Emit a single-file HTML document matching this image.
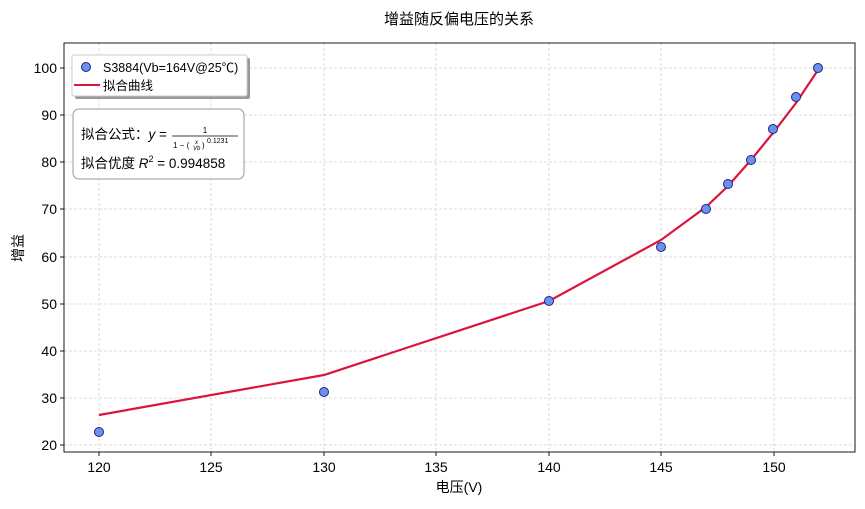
<!DOCTYPE html>
<html><head><meta charset="utf-8"><style>
body{margin:0;background:#fff;}
svg text{font-family:"Liberation Sans","Noto Sans CJK SC",sans-serif;fill:#000;}
</style></head><body>
<svg width="865" height="504" xmlns="http://www.w3.org/2000/svg">
<text x="459" y="24" font-size="15" text-anchor="middle">增益随反偏电压的关系</text>
<g stroke="#d3d3d3" stroke-dasharray="3,2" stroke-width="0.8">
<line x1="99" y1="43" x2="99" y2="452"/><line x1="211" y1="43" x2="211" y2="452"/><line x1="324" y1="43" x2="324" y2="452"/><line x1="436" y1="43" x2="436" y2="452"/><line x1="549" y1="43" x2="549" y2="452"/><line x1="661" y1="43" x2="661" y2="452"/><line x1="774" y1="43" x2="774" y2="452"/>
<line x1="64" y1="68" x2="855" y2="68"/><line x1="64" y1="115" x2="855" y2="115"/><line x1="64" y1="162" x2="855" y2="162"/><line x1="64" y1="209" x2="855" y2="209"/><line x1="64" y1="257" x2="855" y2="257"/><line x1="64" y1="304" x2="855" y2="304"/><line x1="64" y1="351" x2="855" y2="351"/><line x1="64" y1="398" x2="855" y2="398"/><line x1="64" y1="445" x2="855" y2="445"/>
</g>
<rect x="64" y="43" width="791" height="409" fill="none" stroke="#000" stroke-width="0.9"/>
<g stroke="#000" stroke-width="0.9">
<line x1="99" y1="452" x2="99" y2="456"/><line x1="211" y1="452" x2="211" y2="456"/><line x1="324" y1="452" x2="324" y2="456"/><line x1="436" y1="452" x2="436" y2="456"/><line x1="549" y1="452" x2="549" y2="456"/><line x1="661" y1="452" x2="661" y2="456"/><line x1="774" y1="452" x2="774" y2="456"/>
<line x1="60" y1="68" x2="64" y2="68"/><line x1="60" y1="115" x2="64" y2="115"/><line x1="60" y1="162" x2="64" y2="162"/><line x1="60" y1="209" x2="64" y2="209"/><line x1="60" y1="257" x2="64" y2="257"/><line x1="60" y1="304" x2="64" y2="304"/><line x1="60" y1="351" x2="64" y2="351"/><line x1="60" y1="398" x2="64" y2="398"/><line x1="60" y1="445" x2="64" y2="445"/>
</g>
<g font-size="14" text-anchor="middle">
<text x="99" y="472">120</text><text x="211" y="472">125</text><text x="324" y="472">130</text><text x="436" y="472">135</text><text x="549" y="472">140</text><text x="661" y="472">145</text><text x="774" y="472">150</text>
</g>
<g font-size="14" text-anchor="end">
<text x="57" y="73">100</text><text x="57" y="120">90</text><text x="57" y="167">80</text><text x="57" y="214">70</text><text x="57" y="262">60</text><text x="57" y="309">50</text><text x="57" y="356">40</text><text x="57" y="403">30</text><text x="57" y="450">20</text>
</g>
<text x="459" y="492" font-size="14" text-anchor="middle">电压(V)</text>
<text x="23" y="248" font-size="14" text-anchor="middle" transform="rotate(-90 23 248)">增益</text>
<polyline fill="none" stroke="#dc143c" stroke-width="2.2" points="99,415 324,375 549,301 661,240 706,207 728,186 751,160 773,133 796,103 818,70"/>
<g fill="#6f8ff0" stroke="#1a237e" stroke-width="1">
<circle cx="99" cy="432" r="4.5"/><circle cx="324" cy="392" r="4.5"/><circle cx="549" cy="301" r="4.5"/><circle cx="661" cy="247" r="4.5"/><circle cx="706" cy="209" r="4.5"/><circle cx="728" cy="184" r="4.5"/><circle cx="751" cy="160" r="4.5"/><circle cx="773" cy="129" r="4.5"/><circle cx="796" cy="97" r="4.5"/><circle cx="818" cy="68" r="4.5"/>
</g>
<rect x="75" y="58" width="175" height="41" fill="#999" rx="2"/>
<rect x="72" y="55" width="175" height="41" fill="#fff" stroke="#ccc" rx="2"/>
<circle cx="86" cy="67" r="4.5" fill="#6f8ff0" stroke="#1a237e"/>
<text x="103" y="72" font-size="12.5">S3884(Vb=164V@25℃)</text>
<line x1="74" y1="85" x2="100" y2="85" stroke="#dc143c" stroke-width="2"/>
<text x="103" y="90" font-size="12.5">拟合曲线</text>
<rect x="73" y="109" width="171" height="70" fill="#fff" stroke="#999" rx="6"/>
<text x="81" y="139" font-size="13.5">拟合公式：<tspan font-style="italic">y</tspan> =</text>
<text x="205" y="133" font-size="8" text-anchor="middle">1</text>
<line x1="172" y1="136" x2="238" y2="136" stroke="#000" stroke-width="0.7"/>
<text x="173" y="148" font-size="8">1 − (</text><text x="195" y="144" font-size="6" font-style="italic">x</text><text x="193" y="150" font-size="6" font-style="italic">Vb</text><text x="202" y="148" font-size="8">)</text><text x="207" y="143" font-size="7">0.1231</text>
<text x="81" y="168" font-size="13.5">拟合优度 <tspan font-style="italic">R</tspan><tspan font-size="9" dy="-6">2</tspan><tspan dy="6"> = 0.994858</tspan></text>
</svg>
</body></html>
